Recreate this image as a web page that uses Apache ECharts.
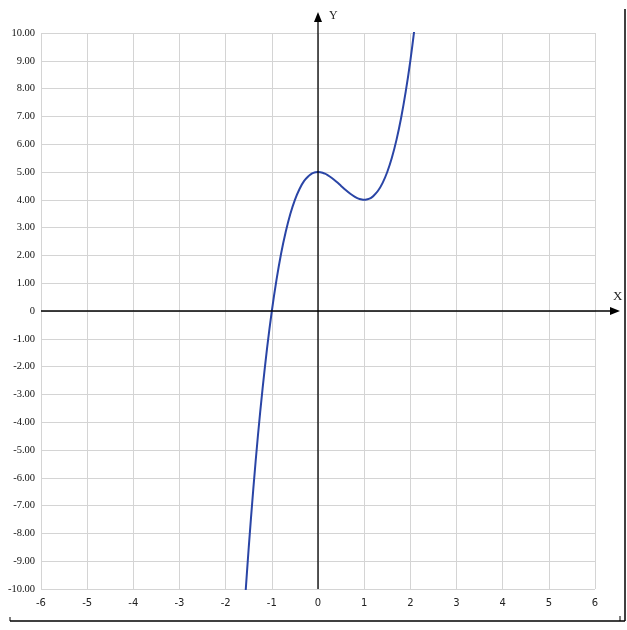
<!DOCTYPE html>
<html>
<head>
<meta charset="utf-8">
<script src="https://cdn.jsdelivr.net/npm/echarts@6/dist/echarts.min.js"></script>
<style>html,body{margin:0;padding:0;background:#fff}#c{width:627px;height:630px}</style>
</head>
<body>
<div id="c"></div>
<script>
var xValues = [-1.58, -1.5, -1.4, -1.3, -1.2, -1.1, -1.0, -0.9, -0.8, -0.7, -0.6, -0.5, -0.4, -0.3, -0.2, -0.15, -0.1, -0.05, 0, 0.05, 0.1, 0.15, 0.2, 0.3, 0.4, 0.5, 0.6, 0.7, 0.8, 0.85, 0.9, 0.95, 1.0, 1.05, 1.1, 1.15, 1.2, 1.3, 1.4, 1.5, 1.6, 1.7, 1.8, 1.9, 2.0, 2.1];
var yValues = [-10.38, -8.5, -6.37, -4.46, -2.78, -1.29, 0, 1.11, 2.06, 2.84, 3.49, 4.0, 4.39, 4.68, 4.86, 4.926, 4.968, 4.992, 5.0, 4.993, 4.972, 4.939, 4.896, 4.784, 4.648, 4.5, 4.352, 4.216, 4.104, 4.062, 4.028, 4.007, 4.0, 4.008, 4.032, 4.072, 4.136, 4.324, 4.608, 5.0, 5.512, 6.156, 6.944, 7.888, 9.0, 10.29];
var xTicks = [-6, -5, -4, -3, -2, -1, 0, 1, 2, 3, 4, 5, 6];
var yTicks = [-10, -9, -8, -7, -6, -5, -4, -3, -2, -1, 0, 1, 2, 3, 4, 5, 6, 7, 8, 9, 10];

var data = xValues.map(function (x, i) { return [x, yValues[i]]; });
var chart = echarts.init(document.getElementById('c'));
var gridColor = '#d4d4d4';
chart.setOption({
  animation: false,
  backgroundColor: '#ffffff',
  grid: { left: 41, right: 32, top: 33, bottom: 41, containLabel: false },
  xAxis: {
    type: 'value', min: xTicks[0], max: xTicks[xTicks.length - 1], interval: 1,
    axisLine: { show: false }, axisTick: { show: false },
    splitLine: { show: true, lineStyle: { color: gridColor, width: 1 } },
    axisLabel: { margin: 9, color: '#222', fontSize: 10, fontFamily: 'DejaVu Sans',
      formatter: function (v) { return String(v); } }
  },
  yAxis: {
    type: 'value', min: yTicks[0], max: yTicks[yTicks.length - 1], interval: 1,
    axisLine: { show: false }, axisTick: { show: false },
    splitLine: { show: true, lineStyle: { color: gridColor, width: 1 } },
    axisLabel: { margin: 6, color: '#111', fontSize: 10.5, fontFamily: 'Liberation Serif',
      formatter: function (v) { return v === 0 ? '0' : v.toFixed(2); } }
  },
  series: [{
    type: 'line', data: data, smooth: 0.3, showSymbol: false, clip: true,
    lineStyle: { color: '#2a45a6', width: 2 }
  }]
});

function drawDecor() {
  var o = chart.convertToPixel({ gridIndex: 0 }, [0, 0]);
  var l = chart.convertToPixel({ gridIndex: 0 }, [xTicks[0], 0]);
  var r = chart.convertToPixel({ gridIndex: 0 }, [xTicks[xTicks.length - 1], 0]);
  var t = chart.convertToPixel({ gridIndex: 0 }, [0, yTicks[yTicks.length - 1]]);
  var b = chart.convertToPixel({ gridIndex: 0 }, [0, yTicks[0]]);
  var xEnd = r[0] + 25, yEnd = t[1] - 21;
  chart.setOption({
    graphic: [
      { type: 'line', shape: { x1: l[0], y1: o[1], x2: xEnd - 4, y2: o[1] }, style: { stroke: '#000', lineWidth: 1.3 }, z: 10 },
      { type: 'polygon', shape: { points: [[xEnd, o[1]], [xEnd - 10, o[1] - 4], [xEnd - 10, o[1] + 4]] }, style: { fill: '#000' }, z: 10 },
      { type: 'line', shape: { x1: o[0], y1: b[1], x2: o[0], y2: yEnd + 4 }, style: { stroke: '#000', lineWidth: 1.3 }, z: 10 },
      { type: 'polygon', shape: { points: [[o[0], yEnd], [o[0] - 4, yEnd + 10], [o[0] + 4, yEnd + 10]] }, style: { fill: '#000' }, z: 10 },
      { type: 'text', x: xEnd - 7, y: o[1] - 21, style: { text: 'X', fill: '#222', font: '13px "Liberation Serif"' }, z: 10 },
      { type: 'text', x: o[0] + 11, y: yEnd - 2, style: { text: 'Y', fill: '#222', font: '12px "Liberation Serif"' }, z: 10 },
      { type: 'line', shape: { x1: 625, y1: 9, x2: 625, y2: 621 }, style: { stroke: '#000', lineWidth: 1.5 }, z: 10 },
      { type: 'line', shape: { x1: 10, y1: 621, x2: 625, y2: 621 }, style: { stroke: '#000', lineWidth: 1.5 }, z: 10 },
      { type: 'line', shape: { x1: 10, y1: 617, x2: 10, y2: 621 }, style: { stroke: '#000', lineWidth: 1 }, z: 10 },
      { type: 'line', shape: { x1: 620, y1: 616, x2: 620, y2: 621 }, style: { stroke: '#000', lineWidth: 1 }, z: 10 }
    ]
  });
}
drawDecor();
</script>
</body>
</html>
